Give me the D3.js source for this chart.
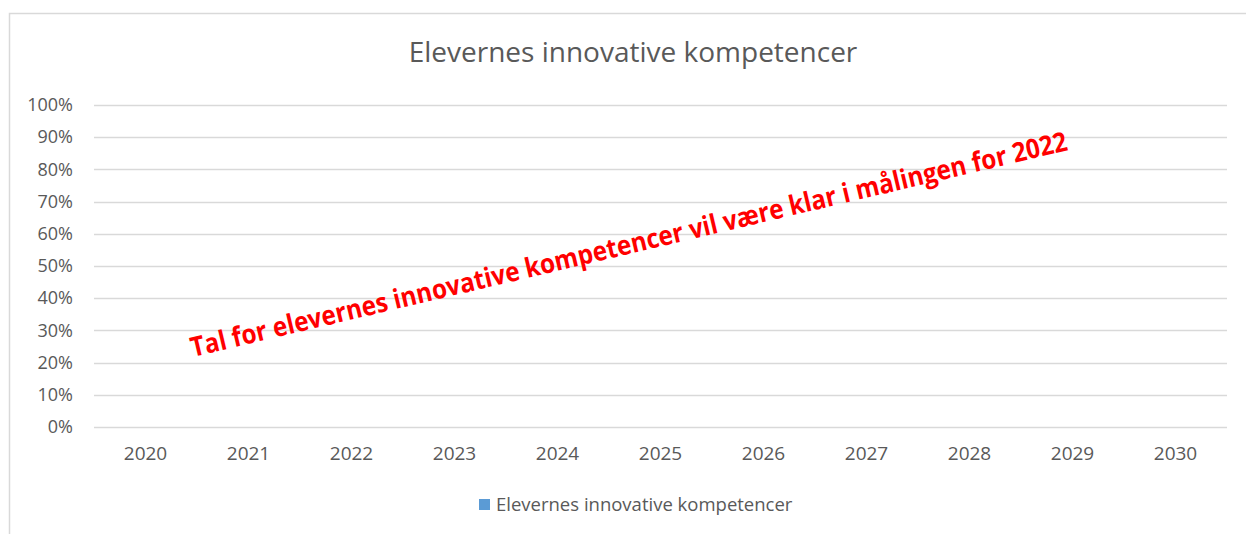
<!DOCTYPE html>
<html>
<head>
<meta charset="utf-8">
<script src="https://cdn.jsdelivr.net/npm/d3@7"></script>
<style>
  body { margin: 0; background: #fff; }
  svg text { font-family: "Open Sans", sans-serif; }
</style>
</head>
<body>
<div id="chart"></div>
<script>
// data
const years = ["2020", "2021", "2022", "2023", "2024", "2025", "2026", "2027", "2028", "2029", "2030"];
const innovativeValues = [null, null, null, null, null, null, null, null, null, null, null];
const yTicks = [0, 0.1, 0.2, 0.3, 0.4, 0.5, 0.6, 0.7, 0.8, 0.9, 1];
const seriesName = "Elevernes innovative kompetencer";
const chartTitle = "Elevernes innovative kompetencer";
const noteText = "Tal for elevernes innovative kompetencer vil være klar i målingen for 2022";

const width = 1246, height = 534;
const margin = { top: 105, right: 19, bottom: 107, left: 94 };

const svg = d3.select("#chart").append("svg")
    .attr("width", width)
    .attr("height", height);

// chart area border (runs off the right and bottom)
svg.append("rect")
    .attr("x", 9.5).attr("y", 13.5)
    .attr("width", width + 20).attr("height", height + 20)
    .attr("fill", "none")
    .attr("stroke", "#d9d9d9")
    .attr("stroke-width", 1.5);

const x = d3.scaleBand()
    .domain(years)
    .range([margin.left, width - margin.right]);

const y = d3.scaleLinear()
    .domain([0, 1])
    .range([height - margin.bottom, margin.top]);

// gridlines
svg.append("g")
    .selectAll("line")
    .data(yTicks)
    .enter().append("line")
        .attr("x1", margin.left)
        .attr("x2", width - margin.right)
        .attr("y1", d => Math.round(y(d)) + 0.5)
        .attr("y2", d => Math.round(y(d)) + 0.5)
        .attr("stroke", "#d9d9d9")
        .attr("stroke-width", 1.5);

// y axis labels
const yAxis = d3.axisLeft(y)
    .tickValues(yTicks)
    .tickFormat(d3.format(".0%"))
    .tickSize(0)
    .tickPadding(21);

svg.append("g")
    .attr("transform", `translate(${margin.left},0)`)
    .call(yAxis)
    .call(g => g.select(".domain").remove())
    .selectAll("text")
        .attr("fill", "#595959")
        .style("font-size", "18px");

// x axis labels
const xAxis = d3.axisBottom(x).tickSize(0).tickPadding(20);

svg.append("g")
    .attr("transform", `translate(0,${height - margin.bottom})`)
    .call(xAxis)
    .call(g => g.select(".domain").remove())
    .selectAll("text")
        .attr("fill", "#595959")
        .style("font-size", "19px");

// bars (no values yet)
svg.append("g")
    .selectAll("rect")
    .data(years.map((yr, i) => ({ year: yr, value: innovativeValues[i] })).filter(d => d.value != null))
    .enter().append("rect")
        .attr("x", d => x(d.year) + x.bandwidth() * 0.2)
        .attr("width", x.bandwidth() * 0.6)
        .attr("y", d => y(d.value))
        .attr("height", d => y(0) - y(d.value))
        .attr("fill", "#5b9bd5");

// title
svg.append("text")
    .attr("x", 633)
    .attr("y", 62)
    .attr("text-anchor", "middle")
    .attr("fill", "#595959")
    .style("font-size", "28px")
    .text(chartTitle);

// legend
const legend = svg.append("g").attr("transform", "translate(479,499)");
legend.append("rect")
    .attr("width", 11).attr("height", 11)
    .attr("fill", "#5b9bd5");
legend.append("text")
    .attr("x", 17)
    .attr("y", 12)
    .attr("fill", "#595959")
    .style("font-size", "18.5px")
    .text(seriesName);

// red note across the plot
svg.append("text")
    .attr("transform", "translate(193,357) rotate(-13.3)")
    .attr("fill", "#ff0000")
    .attr("textLength", 900)
    .attr("lengthAdjust", "spacingAndGlyphs")
    .style("font-size", "27px")
    .style("font-weight", "bold")
    .text(noteText);
</script>
</body>
</html>
